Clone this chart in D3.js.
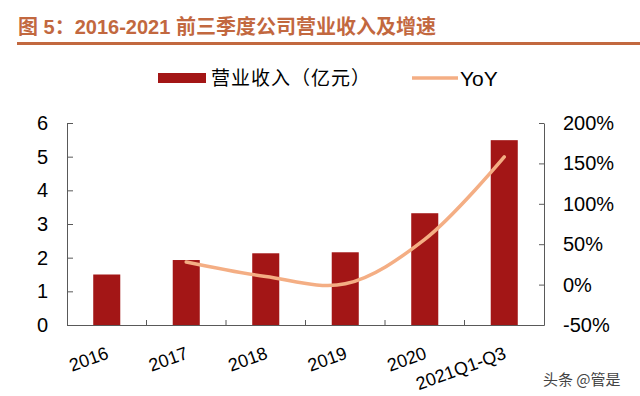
<html>
  <head>
    <meta charset="utf-8" />
    <script src="https://d3js.org/d3.v7.min.js"></script>
    <style>
      body { margin: 0; background: #fff; }
      text { font-family: "Liberation Sans", Arial, "Noto Sans CJK SC", sans-serif; }
    </style>
  </head>
  <body>
    <svg id="chart" width="640" height="396"></svg>
    <script>
      const categories = ["2016", "2017", "2018", "2019", "2020", "2021Q1-Q3"];
      const revenue = [1.5, 1.93, 2.13, 2.16, 3.32, 5.49];
      const yoy = [null, 28, 10, 1, 56, 158];
      const leftTicks = [0, 1, 2, 3, 4, 5, 6];
      const rightTicks = [-50, 0, 50, 100, 150, 200];

      const svg = d3.select("#chart");
      const barColor = "#a31616";
      const lineColor = "#f4ae84";
      const titleColor = "#c2683f";
      const axisColor = "#595959";

      // title + rule
      svg.append("text")
        .attr("x", 18)
        .attr("y", 34)
        .attr("fill", titleColor)
        .attr("font-size", 20)
        .attr("font-weight", "bold")
        .text("图 5：2016-2021 前三季度公司营业收入及增速");
      svg.append("rect")
        .attr("x", 17).attr("y", 42)
        .attr("width", 623).attr("height", 3)
        .attr("fill", titleColor);

      const x = d3.scaleBand()
        .domain(categories)
        .range([67, 544])
        .paddingInner(0.66)
        .paddingOuter(0.33);
      const yL = d3.scaleLinear().domain([0, 6]).range([325, 123]);
      const yR = d3.scaleLinear().domain([-50, 200]).range([325, 123]);

      // bars
      svg.append("g")
        .selectAll("rect")
        .data(categories)
        .enter()
        .append("rect")
        .attr("x", (d) => x(d))
        .attr("y", (d, i) => yL(revenue[i]))
        .attr("width", x.bandwidth())
        .attr("height", (d, i) => yL(0) - yL(revenue[i]))
        .attr("fill", barColor);

      // yoy line
      const pts = categories
        .map((c, i) => ({ c: c, v: yoy[i] }))
        .filter((d) => d.v !== null);
      const line = d3.line()
        .x((d) => x(d.c) + x.bandwidth() / 2)
        .y((d) => yR(d.v))
        .curve(d3.curveCatmullRom.alpha(0.5));
      svg.append("path")
        .datum(pts)
        .attr("d", line)
        .attr("fill", "none")
        .attr("stroke", lineColor)
        .attr("stroke-width", 3.5)
        .attr("stroke-linecap", "round");

      // axes
      const gl = svg.append("g")
        .attr("transform", "translate(67,0)")
        .call(d3.axisLeft(yL).tickValues(leftTicks).tickSizeInner(-6).tickSizeOuter(0).tickPadding(19)
          .tickFormat(d3.format("d")));
      const gr = svg.append("g")
        .attr("transform", "translate(544,0)")
        .call(d3.axisRight(yR).tickValues(rightTicks).tickSizeInner(-5).tickSizeOuter(0).tickPadding(19)
          .tickFormat((d) => d + "%"));
      [gl, gr].forEach((g) => {
        g.selectAll("path, line").attr("stroke", axisColor);
        g.selectAll("text").attr("font-size", 20).attr("fill", "#000")
          .style("font-family", '"Liberation Sans", Arial, sans-serif');
      });

      const gb = svg.append("g")
        .attr("transform", "translate(0,325)")
        .call(d3.axisBottom(x).tickSize(0).tickSizeOuter(0).tickFormat(""));
      gb.select(".domain").attr("stroke", axisColor);
      gb.selectAll(".tick").remove();
      gb.selectAll("line.sep")
        .data(categories.slice(1))
        .enter()
        .append("line")
        .attr("class", "sep")
        .attr("x1", (d) => x(d) - (x.step() - x.bandwidth()) / 2)
        .attr("x2", (d) => x(d) - (x.step() - x.bandwidth()) / 2)
        .attr("y1", 0)
        .attr("y2", -5)
        .attr("stroke", axisColor);
      gb.selectAll("text.lab")
        .data(categories)
        .enter()
        .append("text")
        .attr("class", "lab")
        .attr("text-anchor", "end")
        .attr("fill", "#000")
        .attr("font-size", 18)
        .attr("transform", (d) => `translate(${x(d) + x.bandwidth() / 2 + 3},${33}) rotate(-20)`)
        .text((d) => d);

      // legend
      const lg = svg.append("g");
      lg.append("rect")
        .attr("x", 158).attr("y", 73)
        .attr("width", 48).attr("height", 10)
        .attr("fill", barColor);
      lg.append("text")
        .attr("x", 211).attr("y", 85)
        .attr("font-size", 19)
        .attr("letter-spacing", 1)
        .text("营业收入（亿元）");
      lg.append("line")
        .attr("x1", 412).attr("x2", 458)
        .attr("y1", 78).attr("y2", 78)
        .attr("stroke", lineColor)
        .attr("stroke-width", 3.5);
      lg.append("text")
        .attr("x", 460).attr("y", 86)
        .attr("font-size", 21)
        .text("YoY");

      // watermark
      svg.append("text")
        .attr("x", 543).attr("y", 385)
        .attr("font-size", 15)
        .attr("fill", "#444")
        .style("font-family", '"Noto Sans CJK SC", sans-serif')
        .text("头条 @管是");
    </script>
  </body>
</html>
